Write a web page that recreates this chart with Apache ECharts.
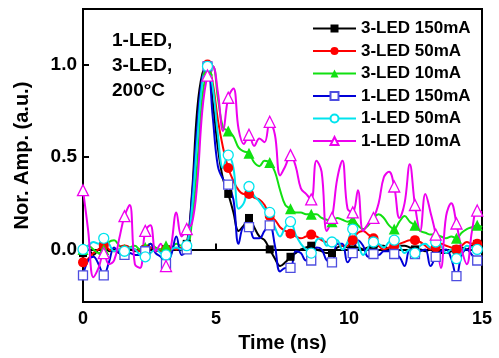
<!DOCTYPE html>
<html>
<head>
<meta charset="utf-8">
<script src="https://cdn.jsdelivr.net/npm/echarts@6/dist/echarts.min.js"></script>
<style>
  html, body { margin: 0; padding: 0; background: #fff; }
  #chart { width: 499px; height: 358px; }
</style>
</head>
<body>
<div id="chart"></div>
<script>
// time axis (ns), markers sit on every 4th sample
const time = [0, 0.195, 0.39, 0.585, 0.78, 0.975, 1.17, 1.365, 1.56, 1.755,
    1.95, 2.145, 2.34, 2.535, 2.73, 2.925, 3.12, 3.315, 3.51, 3.705,
    3.9, 4.095, 4.29, 4.485, 4.68, 4.875, 5.07, 5.265, 5.46, 5.655,
    5.85, 6.045, 6.24, 6.435, 6.63, 6.825, 7.02, 7.215, 7.41, 7.605,
    7.8, 7.995, 8.19, 8.385, 8.58, 8.775, 8.97, 9.165, 9.36, 9.555,
    9.75, 9.945, 10.14, 10.335, 10.53, 10.725, 10.92, 11.115, 11.31, 11.505,
    11.7, 11.895, 12.09, 12.285, 12.48, 12.675, 12.87, 13.065, 13.26, 13.455,
    13.65, 13.845, 14.04, 14.235, 14.43, 14.625, 14.82, 15];

const led3_150 = [-0.02, 0.0, -0.03, 0.0, 0.02, -0.01, 0.0, -0.02, 0.0, 0.01,
    -0.01, 0.0, 0.0, 0.01, -0.01, 0.0, 0.0, 0.01, 0.0, 0.01,
    0.03, 0.30, 0.75, 0.95, 0.99, 0.80, 0.55, 0.38, 0.30, 0.20,
    0.10, 0.13, 0.17, 0.12, 0.07, 0.05, 0.0, -0.05, -0.09, -0.07,
    -0.04, -0.02, 0.0, 0.01, 0.02, 0.0, -0.01, -0.02, -0.02, 0.01,
    0.02, 0.01, 0.0, 0.01, 0.0, 0.01, 0.0, 0.02, 0.02, 0.0,
    0.01, 0.02, 0.02, 0.01, 0.0, 0.0, -0.01, 0.0, 0.0, -0.02,
    -0.02, -0.01, 0.0, 0.01, 0.0, 0.02, 0.03, 0.05];

const led3_50 = [-0.07, -0.05, -0.02, 0.0, 0.02, 0.0, -0.01, 0.0, 0.0, 0.01,
    0.0, -0.01, 0.0, 0.01, 0.0, -0.01, 0.0, 0.01, 0.0, 0.01,
    0.02, 0.25, 0.62, 0.92, 1.0, 0.90, 0.70, 0.55, 0.44, 0.37,
    0.32, 0.30, 0.30, 0.28, 0.27, 0.24, 0.18, 0.16, 0.12, 0.10,
    0.085, 0.07, 0.06, 0.07, 0.08, 0.07, 0.05, 0.04, 0.04, 0.03,
    0.02, 0.02, 0.05, 0.09, 0.10, 0.08, 0.06, 0.02, 0.0, 0.01,
    0.02, 0.03, 0.04, 0.05, 0.05, 0.04, 0.02, 0.0, 0.01, 0.03,
    0.02, 0.01, 0.0, 0.02, 0.04, 0.03, 0.03, 0.02];

const led3_10 = [0.0, 0.02, 0.0, -0.02, 0.0, 0.04, 0.05, 0.02, 0.0, 0.01,
    0.02, 0.0, 0.01, 0.03, 0.01, 0.0, 0.02, 0.01, 0.03, 0.02,
    0.02, 0.15, 0.45, 0.82, 0.97, 0.99, 0.82, 0.66, 0.64, 0.61,
    0.55, 0.53, 0.52, 0.47, 0.45, 0.48, 0.47, 0.42, 0.32, 0.24,
    0.22, 0.20, 0.20, 0.19, 0.19, 0.19, 0.17, 0.16, 0.15, 0.17,
    0.16, 0.15, 0.16, 0.13, 0.11, 0.13, 0.17, 0.19, 0.17, 0.13,
    0.11, 0.15, 0.18, 0.15, 0.13, 0.10, 0.09, 0.08, 0.08, 0.07,
    0.06, 0.07, 0.06, 0.09, 0.11, 0.12, 0.13, 0.12];

const led1_150 = [-0.14, -0.06, -0.04, -0.08, -0.14, -0.07, 0.01, -0.02, -0.03, -0.02,
    -0.03, -0.03, -0.01, 0.03, -0.02, -0.04, -0.08, -0.03, 0.07, -0.03,
    0.0, 0.28, 0.65, 0.93, 0.99, 0.72, 0.45, 0.38, 0.35, 0.27,
    0.03, 0.12, 0.12, 0.06, 0.06, 0.10, 0.13, 0.02, -0.12, -0.10,
    -0.10, -0.01, -0.02, -0.06, -0.06, 0.01, 0.0, -0.06, -0.07, 0.03,
    0.03, -0.07, -0.02, 0.05, 0.02, -0.04, -0.025, -0.03, -0.01, -0.01,
    -0.025, -0.04, -0.09, 0.0, -0.025, -0.01, 0.0, -0.09, -0.04, -0.01,
    0.0, -0.05, -0.145, -0.03, 0.0, -0.03, -0.06, -0.04];

const led1_50 = [0.0, 0.02, 0.04, 0.03, 0.06, 0.03, -0.01, 0.0, -0.01, 0.01,
    0.0, -0.03, -0.04, -0.02, 0.0, -0.02, -0.03, 0.0, 0.01, 0.0,
    0.02, 0.22, 0.58, 0.90, 0.99, 0.88, 0.62, 0.44, 0.51, 0.44,
    0.22, 0.25, 0.34, 0.29, 0.26, 0.22, 0.20, 0.12, 0.07, 0.12,
    0.15, 0.08, 0.03, 0.0, -0.02, 0.05, 0.06, 0.02, 0.04, 0.05,
    0.0, 0.04, 0.11, 0.04, -0.03, 0.01, 0.04, 0.03, 0.01, 0.04,
    0.05, 0.02, -0.02, 0.0, -0.02, 0.02, 0.03, 0.01, 0.04, 0.02,
    -0.02, 0.0, -0.05, -0.02, 0.02, 0.01, 0.0, 0.01];

const led1_10 = [0.32, 0.10, -0.15, -0.10, -0.02, -0.08, -0.06, 0.06, 0.18, 0.24,
    -0.08, -0.10, 0.10, 0.13, -0.01, 0.03, -0.09, 0.02, 0.20, 0.07,
    0.11, 0.14, 0.35, 0.75, 0.94, 0.99, 0.85, 0.64, 0.82, 0.87,
    0.65, 0.57, 0.62, 0.56, 0.60, 0.58, 0.69, 0.62, 0.40, 0.45,
    0.51, 0.45, 0.33, 0.30, 0.27, 0.48, 0.42, 0.10, 0.17, 0.38,
    0.48, 0.22, 0.20, 0.32, 0.10, 0.14, 0.17, 0.25, 0.39, 0.42,
    0.34, 0.17, 0.25, 0.46, 0.24, 0.10, 0.30, 0.20, 0.08, -0.10,
    0.18, 0.25, 0.14, 0.0, -0.08, 0.10, 0.21, 0.20];

const yTicks = [0, 0.5, 1.0];

const FONT = 'Liberation Sans';
const MARK_EVERY = 4;

const lines = [
    { name: '3-LED 150mA', data: led3_150, color: '#000000', symbol: 'rect', size: 8, hollow: false },
    { name: '3-LED 50mA', data: led3_50, color: '#ff0000', symbol: 'circle', size: 10, hollow: false },
    { name: '3-LED 10mA', data: led3_10, color: '#11e011', symbol: 'triangle', size: 11, hollow: false },
    { name: '1-LED 150mA', data: led1_150, color: '#0000d8', symbol: 'rect', size: 9, hollow: true, edge: '#4d4de0' },
    { name: '1-LED 50mA', data: led1_50, color: '#00e4ee', symbol: 'circle', size: 10, hollow: true },
    { name: '1-LED 10mA', data: led1_10, color: '#ee00ee', symbol: 'triangle', size: 11, hollow: true },
];

const chart = echarts.init(document.getElementById('chart'), null, { renderer: 'canvas' });

const option = {
    animation: false,
    backgroundColor: '#fff',
    grid: {
        left: 83,
        top: 9,
        right: 17,
        bottom: 54,
        show: true,
        borderColor: '#000',
        borderWidth: 2,
    },
    xAxis: {
        type: 'value',
        min: 0,
        max: 15,
        interval: 5,
        name: 'Time (ns)',
        nameLocation: 'middle',
        nameGap: 28,
        nameTextStyle: { fontFamily: FONT, fontWeight: 'bold', fontSize: 20, color: '#000' },
        axisLine: { show: true, lineStyle: { color: '#000', width: 2 } },
        axisTick: { show: true, inside: true, length: 6, lineStyle: { color: '#000', width: 2 } },
        axisLabel: { fontFamily: FONT, fontWeight: 'bold', fontSize: 18, color: '#000', margin: 8 },
        splitLine: { show: false },
    },
    yAxis: {
        type: 'value',
        min: -0.285,
        max: 1.3,
        name: 'Nor. Amp. (a.u.)',
        nameLocation: 'middle',
        nameGap: 51,
        nameTextStyle: { fontFamily: FONT, fontWeight: 'bold', fontSize: 20, color: '#000' },
        axisLine: { show: true, lineStyle: { color: '#000', width: 2 } },
        axisTick: { show: true, inside: true, length: 6, customValues: yTicks, lineStyle: { color: '#000', width: 2 } },
        axisLabel: {
            fontFamily: FONT, fontWeight: 'bold', fontSize: 19, color: '#000', margin: 6,
            customValues: yTicks,
            formatter: (v) => v.toFixed(1),
        },
        splitLine: { show: false },
    },
    legend: {
        orient: 'vertical',
        left: 307,
        top: 15,
        itemWidth: 43,
        itemHeight: 10,
        itemGap: 5.5,
        textStyle: { fontFamily: FONT, fontWeight: 'bold', fontSize: 17, color: '#000' },
        data: lines.map((l) => l.name),
    },
    graphic: [
        {
            type: 'text',
            left: 112,
            top: 28,
            style: {
                text: '1-LED,\n3-LED,\n200°C',
                font: 'bold 19px "Liberation Sans"',
                lineHeight: 25,
                fill: '#000',
            },
        },
    ],
    series: lines.map((l) => ({
        name: l.name,
        type: 'line',
        smooth: 0.4,
        showAllSymbol: true,
        symbol: l.symbol,
        symbolSize: l.size,
        z: 2,
        lineStyle: { color: l.color, width: 2 },
        itemStyle: l.hollow
            ? { color: '#fff', borderColor: l.edge || l.color, borderWidth: 1.3 }
            : { color: l.color, borderWidth: 0 },
        data: l.data.map((v, i) =>
            i % MARK_EVERY === 0 && i < time.length - 1
                ? [time[i], v]
                : { value: [time[i], v], symbol: 'none' }
        ),
    })),
};

chart.setOption(option);
</script>
</body>
</html>
